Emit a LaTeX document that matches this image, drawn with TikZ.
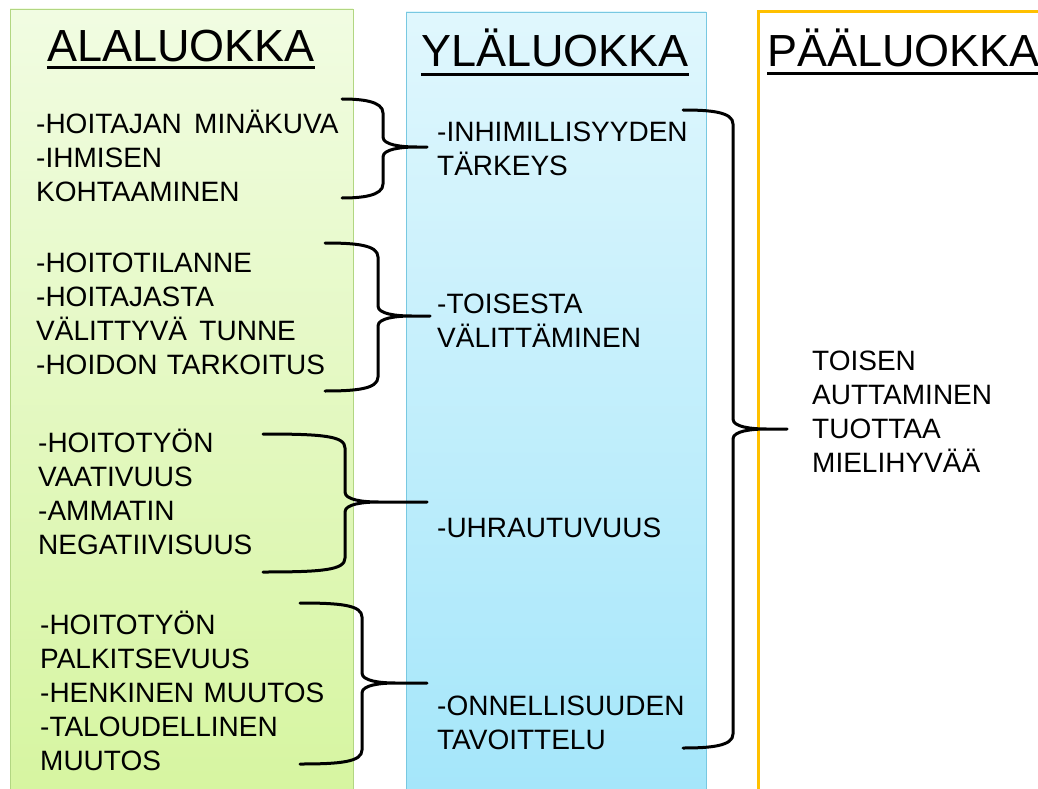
\documentclass[tikz,border=0pt]{standalone}
\usepackage{fontspec}
\setmainfont{Liberation Sans}
\usetikzlibrary{calc}
\definecolor{vaalea}{RGB}{241,252,226}
\definecolor{ruoho}{RGB}{214,245,160}
\definecolor{ruohoreuna}{RGB}{178,214,130}
\definecolor{jaa}{RGB}{224,247,253}
\definecolor{taivas}{RGB}{164,230,250}
\definecolor{taivasreuna}{RGB}{120,200,225}
\definecolor{kulta}{RGB}{255,192,0}
\tikzset{otsikko/.style={inner sep=0pt,anchor=base,font=\fontsize{45}{54}\selectfont}}
\tikzset{teksti/.style={inner sep=0pt,anchor=base west,align=left,text width=330pt,font=\fontsize{28}{34}\selectfont}}
\tikzset{sulku/.style={line width=3pt,black,line cap=round,line join=round}}
\tikzset{alleviiva/.style={line width=3pt}}
\newcommand{\sulku}[4]{%
\draw[sulku] let \p1=(#1), \p2=(#2), \p3=(#3), \p4=(#4) in
  (\p1) .. controls ({\x4-22pt},\y1) and (\x4,{\y1-2pt}) .. (\x4,{\y1-14pt})
  -- (\x4,{\y3+10pt}) .. controls (\x4,{\y3+2pt}) and ({\x4+18pt},\y3) .. ({\x4+34pt},\y3) -- (\p3)
  ({\x4+34pt},\y3) .. controls ({\x4+18pt},\y3) and (\x4,{\y3-2pt}) .. (\x4,{\y3-10pt})
  -- (\x4,{\y2+14pt}) .. controls (\x4,{\y2+2pt}) and ({\x4-22pt},\y2) .. (\p2);}

\begin{document}
\begin{tikzpicture}[x=1pt,y=-1pt]
	\useasboundingbox (0,0) rectangle (1038,789);
	\begin{scope}
		\clip (0,0) rectangle (1038,789);
		\path[draw=ruohoreuna,top color=vaalea,bottom color=ruoho] (10,9) rectangle (353,800);
		\path[draw=taivasreuna,top color=jaa,bottom color=taivas] (406,12) rectangle (706,800);
		\draw[kulta,line width=3pt] (758,12) rectangle (1050,800);
	\end{scope}

	\node[otsikko] (alaotsikko) at (181,62) {ALALUOKKA};
	\node[otsikko] (ylaotsikko) at (555,67) {YLÄLUOKKA};
	\node[otsikko,anchor=base west] (paaotsikko) at (767,67) {PÄÄLUOKKA};
	\draw[alleviiva] ([yshift=-6pt]alaotsikko.base west) -- ([yshift=-6pt]alaotsikko.base east);
	\draw[alleviiva] ([yshift=-8pt]ylaotsikko.base west) -- ([yshift=-8pt]ylaotsikko.base east);
	\draw[alleviiva] ([yshift=-7pt]paaotsikko.base west) -- ([yshift=-7pt]paaotsikko.base east);

	\node[teksti] (ala1) at (36,133) {-HOITAJAN\ \hspace{3pt}MINÄKUVA\\-IHMISEN\\KOHTAAMINEN};
	\node[teksti] (ala2) at (36,272) {-HOITOTILANNE\\-HOITAJASTA\\VÄLITTYVÄ\ \hspace{3pt}TUNNE\\-HOIDON TARKOITUS};
	\node[teksti] (ala3) at (38,452) {-HOITOTYÖN\\VAATIVUUS\\-AMMATIN\\NEGATIIVISUUS};
	\node[teksti] (ala4) at (40,634) {-HOITOTYÖN\\PALKITSEVUUS\\-HENKINEN MUUTOS\\-TALOUDELLINEN\\MUUTOS};

	\node[teksti] (yla1) at (437,142) {-INHIMILLISYYDEN\\TÄRKEYS};
	\node[teksti] (yla2) at (437,313) {-TOISESTA\\VÄLITTÄMINEN};
	\node[teksti] (yla3) at (437,537) {-UHRAUTUVUUS};
	\node[teksti] (yla4) at (437,715) {-ONNELLISUUDEN\\TAVOITTELU};

	\node[teksti] (paa) at (812,370) {TOISEN\\AUTTAMINEN\\TUOTTAA\\MIELIHYVÄÄ};

	% sulkeet
	\coordinate (s1y) at (342,99);  \coordinate (s1a) at (342,198); \coordinate (s1k) at (427,147); \coordinate (s1v) at (383,0);
	\coordinate (s2y) at (325,243); \coordinate (s2a) at (325,391); \coordinate (s2k) at (430,316); \coordinate (s2v) at (378,0);
	\coordinate (s3y) at (263,434); \coordinate (s3a) at (263,572); \coordinate (s3k) at (427,502); \coordinate (s3v) at (345,0);
	\coordinate (s4y) at (300,603); \coordinate (s4a) at (300,764); \coordinate (s4k) at (427,683); \coordinate (s4v) at (362,0);
	\coordinate (s5y) at (683,110); \coordinate (s5a) at (683,748); \coordinate (s5k) at (787,429); \coordinate (s5v) at (733,0);
	\sulku{s1y}{s1a}{s1k}{s1v}
	\sulku{s2y}{s2a}{s2k}{s2v}
	\sulku{s3y}{s3a}{s3k}{s3v}
	\sulku{s4y}{s4a}{s4k}{s4v}
	\sulku{s5y}{s5a}{s5k}{s5v}
\end{tikzpicture}
\end{document}
